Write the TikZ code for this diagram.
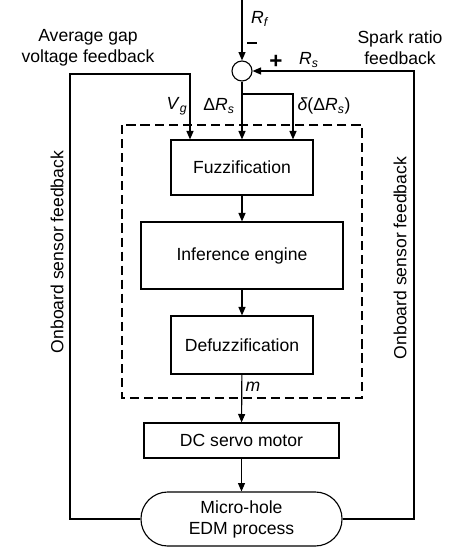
\documentclass[tikz,border=0pt]{standalone}
\usepackage{fontspec}
\setmainfont{Liberation Sans}
\usetikzlibrary{arrows.meta, positioning}
\newcommand{\varsub}[2]{\textit{#1}\textsubscript{\textit{#2}}}

\begin{document}
\begin{tikzpicture}[x=0.025cm, y=-0.025cm, font=\fontsize{12.5}{15}\selectfont]
    % Styles
    \tikzstyle{block} = [draw, line width=0.8pt, align=center, inner sep=0pt]
    \tikzstyle{sumpt} = [draw, circle, line width=0.8pt, minimum size=0.5cm, inner sep=0pt]
    \tikzstyle{proc} = [draw, line width=0.8pt, rounded corners=0.67cm, minimum width=5.025cm, minimum height=1.35cm, align=center, inner sep=0pt]
    \tikzstyle{arrow} = [draw, -{Triangle[length=6pt, width=5pt]}, line width=0.8pt]
    \tikzstyle{line} = [draw, line width=0.8pt]
    \tikzstyle{dashbox} = [draw, line width=2pt, dash pattern=on 6.5pt off 3.5pt]
    \tikzstyle{lbl} = [align=center, inner sep=1pt]

    \useasboundingbox (0,0) rectangle (474,560);

    % Summing point and input
    \coordinate (top) at (242,0);
    \node[sumpt] (sum) at (242,71) {};

    % Fuzzy controller
    \node[block, minimum width=3.55cm, minimum height=1.375cm] (fuzz) at (242,167.5) {Fuzzification};
    \node[block, minimum width=5.05cm, minimum height=1.675cm] (infer) at (242,255.5) {Inference engine};
    \node[block, minimum width=3.55cm, minimum height=1.45cm] (defuzz) at (242,345) {Defuzzification};
    \draw[dashbox] (122,125) rectangle (362,398);

    % Plant
    \node[block, minimum width=4.875cm, minimum height=0.875cm] (servo) at (241.5,440.5) {DC servo motor};
    \node[proc] (proc) at (241.5,519) {Micro-hole\\EDM process};

    % Routing points
    \coordinate (branch) at (242,94);
    \coordinate (dtop) at (293,94);
    \coordinate (lfb) at (70,74);
    \coordinate (vgin) at (190,74);
    \coordinate (rfb) at (414,71);

    % Arrows
    \draw[arrow] (top) -- (sum);
    \draw[line] (sum) -- (branch);
    \draw[arrow] (branch) -- (fuzz.north);
    \draw[arrow] (branch) -- (dtop) -- (dtop |- fuzz.north);
    \draw[arrow] (proc.west) -| (lfb) -- (vgin) -- (vgin |- fuzz.north);
    \draw[arrow] (proc.east) -| (rfb) -- (sum.east);
    \draw[arrow] (fuzz) -- (infer);
    \draw[arrow] (infer) -- (defuzz);
    \draw[arrow] (defuzz) -- (servo);
    \draw[arrow] (servo) -- (proc);

    % Labels
    \node[lbl] (rf) at (260,19) {\varsub{R}{f}};
    \node[lbl] (minus) at (252,43) {\rule{0.24cm}{0.07cm}};
    \node[lbl, font=\fontsize{16}{16}\selectfont\bfseries] (plus) at (276,62) {+};
    \node[lbl] (rs) at (309,60) {\varsub{R}{s}};
    \node[lbl, anchor=east] (vg) at (189,106) {\varsub{V}{g}};
    \node[lbl] (drs) at (219,106) {Δ\varsub{R}{s}};
    \node[lbl] (ddrs) at (324,106) {\textit{δ}(Δ\varsub{R}{s})};
    \node[lbl] (m) at (253,387) {\textit{m}};
    \node[lbl] (avg) at (88,48) {Average gap\\voltage feedback};
    \node[lbl] (spark) at (400,48) {Spark ratio\\feedback};
    \node[lbl, rotate=90] (lsense) at (57,252) {Onboard sensor feedback};
    \node[lbl, rotate=90] (rsense) at (400,258) {Onboard sensor feedback};
\end{tikzpicture}
\end{document}
